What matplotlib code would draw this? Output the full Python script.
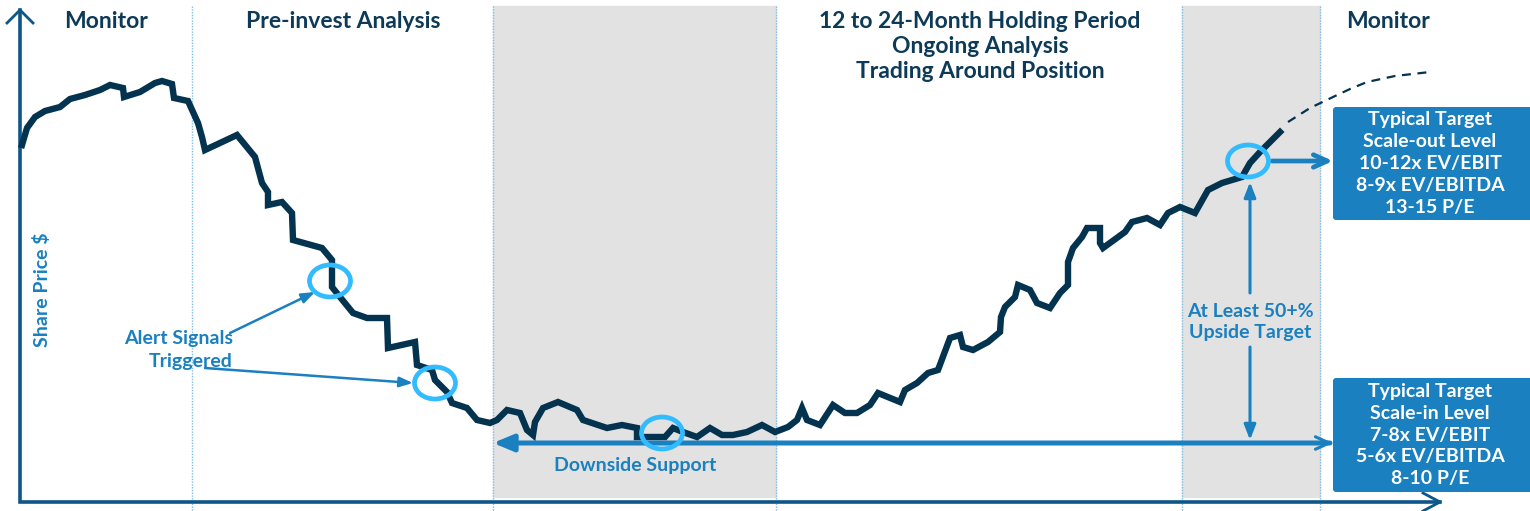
import matplotlib
matplotlib.use('Agg')
import matplotlib.pyplot as plt
from matplotlib.patches import Ellipse, FancyBboxPatch, Rectangle

plt.rcParams['font.family'] = ['Lato', 'DejaVu Sans']

# share price path (pixel-like units, y grows downward)
curve_x = [22, 27, 35, 45, 60, 70, 85, 100, 110, 123, 124, 140, 155, 162, 172, 174, 188,
           198, 202, 205, 237, 255, 262, 268, 268, 282, 292, 293, 322, 332, 332, 340, 353,
           367, 387, 388, 415, 417, 432, 435, 447, 452, 467, 477, 490, 497, 507, 520, 527,
           533, 535, 543, 558, 577, 583, 607, 622, 637, 637, 665, 673, 683, 697, 710, 722,
           733, 747, 762, 775, 788, 797, 802, 807, 820, 833, 845, 857, 870, 878, 900, 905,
           917, 928, 938, 950, 960, 963, 973, 988, 1000, 1001, 1005, 1015, 1018, 1030, 1037,
           1050, 1060, 1068, 1068, 1073, 1082, 1087, 1100, 1100, 1103, 1125, 1132, 1147,
           1160, 1168, 1180, 1195, 1208, 1222, 1242, 1250, 1260, 1280]
curve_y = [145, 128, 117, 111, 107, 99, 95, 90, 85, 88, 97, 92, 83, 81, 84, 98, 101,
           123, 137, 150, 135, 157, 183, 192, 205, 202, 213, 240, 248, 260, 287, 297, 313,
           318, 318, 348, 342, 365, 370, 380, 392, 403, 408, 420, 423, 420, 410, 413, 430,
           435, 422, 408, 402, 410, 420, 428, 425, 428, 437, 437, 428, 432, 437, 428, 435,
           435, 432, 425, 432, 427, 420, 408, 420, 425, 405, 413, 413, 405, 393, 402, 390,
           383, 373, 370, 338, 335, 347, 350, 342, 332, 317, 307, 297, 285, 290, 303,
           308, 293, 285, 262, 248, 237, 228, 228, 243, 248, 232, 222, 218,
           225, 213, 207, 213, 190, 183, 177, 163, 152, 132]
proj_x = [1288, 1310, 1333, 1350, 1367, 1395, 1430]
proj_y = [122, 108, 97, 89, 82, 76, 72]

phase_edges = [192, 493, 776, 1182, 1320]
shade_bands = [(493, 776), (1182, 1320)]
phase_titles = ['Monitor', 'Pre-invest Analysis',
                '12 to 24-Month Holding Period\nOngoing Analysis\nTrading Around Position',
                'Monitor']
phase_title_x = [106, 343, 980, 1388]

signal_x = [330, 435, 662, 1248]
signal_y = [281, 383, 433, 161]

support_y = 443
scale_out_text = 'Typical Target\nScale-out Level\n10-12x EV/EBIT\n8-9x EV/EBITDA\n13-15 P/E'
scale_in_text = 'Typical Target\nScale-in Level\n7-8x EV/EBIT\n5-6x EV/EBITDA\n8-10 P/E'

navy = '#03334f'
axis_blue = '#0d5689'
mid_blue = '#1a80c0'
light_blue = '#33bbff'
grey = '#e2e2e2'

fig = plt.figure(figsize=(15.3, 5.11), dpi=100)
ax = fig.add_axes([0, 0, 1, 1])
ax.set_xlim(0, 1530)
ax.set_ylim(511, 0)
ax.axis('off')

for a, b in shade_bands:
    ax.add_patch(Rectangle((a, 6), b - a, 491, color=grey, zorder=0))
for xe in phase_edges:
    ax.plot([xe, xe], [6, 511], color='#7fbfe6', lw=1, ls=(0, (1, 1)), zorder=1)

# axes with open arrow heads
ax.plot([20, 20, 1440], [10, 502, 502], color=axis_blue, lw=2.6, zorder=3,
        solid_joinstyle='miter')
ax.plot([7, 20, 33], [23, 10, 23], color=axis_blue, lw=2, zorder=3)
ax.plot([1423, 1440, 1423], [493, 502, 511], color=axis_blue, lw=2, zorder=3)

for t, xt in zip(phase_titles, phase_title_x):
    ax.text(xt, 11, t, ha='center', va='top', fontsize=16.5, fontweight='bold',
            color='#0d3a57', linespacing=1.23)

ax.text(42, 290, 'Share Price $', rotation=90, ha='center', va='center',
        fontsize=14, fontweight='bold', color=mid_blue)

# price path
ax.plot(curve_x, curve_y, color=navy, lw=4.6, zorder=5, solid_joinstyle='miter')
ax.plot(proj_x, proj_y, color=navy, lw=1.6, ls=(0, (4, 3)), zorder=5)

# support line and arrows
ax.annotate('', xy=(493, support_y), xytext=(1330, support_y),
            arrowprops=dict(arrowstyle='-|>,head_length=1.2,head_width=0.5', lw=3.6,
                            color=mid_blue, shrinkA=0, shrinkB=0), zorder=4)
ax.annotate('', xy=(1333, support_y), xytext=(1300, support_y),
            arrowprops=dict(arrowstyle='->,head_length=1.0,head_width=0.45', lw=2.2,
                            color=mid_blue, shrinkA=0, shrinkB=0), zorder=4)
ax.text(635, 465, 'Downside Support', ha='center', va='center', fontsize=14,
        fontweight='bold', color=mid_blue)

# upside arrow
ax.annotate('', xy=(1250, 182), xytext=(1250, 293),
            arrowprops=dict(arrowstyle='-|>,head_length=0.9,head_width=0.35', lw=2.2,
                            color=mid_blue, shrinkA=0, shrinkB=0), zorder=4)
ax.annotate('', xy=(1250, 440), xytext=(1250, 347),
            arrowprops=dict(arrowstyle='-|>,head_length=0.9,head_width=0.35', lw=2.2,
                            color=mid_blue, shrinkA=0, shrinkB=0), zorder=4)
ax.text(1250, 322, 'At Least 50+%\nUpside Target', ha='center', va='center',
        fontsize=14, fontweight='bold', color=mid_blue, linespacing=1.24)

# scale-out arrow
ax.annotate('', xy=(1333, 161), xytext=(1272, 161),
            arrowprops=dict(arrowstyle='->,head_length=1.0,head_width=0.45', lw=3.4,
                            color=mid_blue, shrinkA=0, shrinkB=0), zorder=4)

# alert arrows
ax.text(233, 350, 'Alert Signals\nTriggered', ha='right', va='center', fontsize=14,
        fontweight='bold', color=mid_blue, linespacing=1.38)
ax.annotate('', xy=(315, 292), xytext=(230, 333),
            arrowprops=dict(arrowstyle='-|>,head_length=0.8,head_width=0.3', lw=1.8,
                            color=mid_blue, shrinkA=0, shrinkB=0), zorder=4)
ax.annotate('', xy=(413, 383), xytext=(205, 368),
            arrowprops=dict(arrowstyle='-|>,head_length=0.8,head_width=0.3', lw=1.8,
                            color=mid_blue, shrinkA=0, shrinkB=0), zorder=4)

for sx, sy in zip(signal_x, signal_y):
    ax.add_patch(Ellipse((sx, sy), 41, 32, fill=False, ec=light_blue, lw=3.4, zorder=6))

# target boxes
for y0, h, txt in [(107, 113, scale_out_text), (378, 114, scale_in_text)]:
    ax.add_patch(FancyBboxPatch((1333, y0), 230, h, boxstyle='round,pad=0,rounding_size=3',
                                fc=mid_blue, ec='none', zorder=4))
    ax.text(1430, y0 + h / 2, txt, ha='center', va='center', fontsize=14,
            fontweight='bold', color='white', linespacing=1.35, zorder=7)

fig.savefig('out.png', dpi=100)
